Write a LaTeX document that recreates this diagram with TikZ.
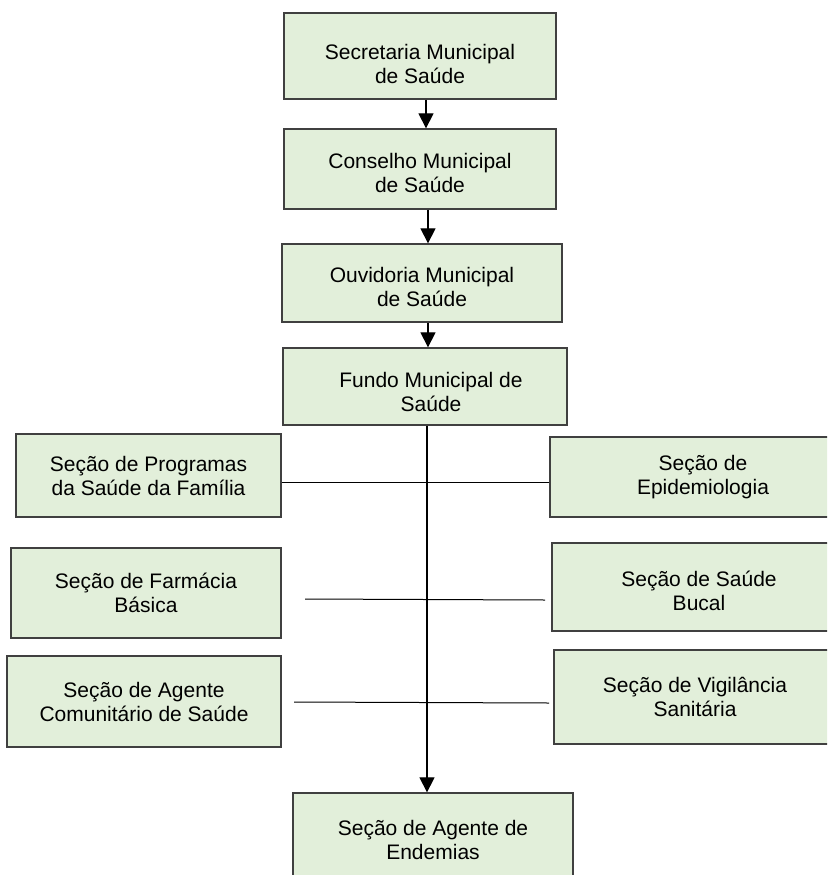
\documentclass[tikz,border=0pt]{standalone}
\usepackage{fontspec}
\setmainfont{Liberation Sans}
\usepackage{tikz}
\usetikzlibrary{calc}
\usetikzlibrary{arrows.meta}
\definecolor{boxgreen}{HTML}{E2EFDA}
\definecolor{boxedge}{HTML}{404040}
\newcommand{\txtdown}[1]{\rule{0pt}{#1}}
\tikzset{%
  orgedge/.style={->, line width=1.2pt, >={Triangle[length=15pt,width=15pt]}},
  orgline/.style={line width=1pt},
  orgbox/.style={rectangle, draw=boxedge, fill=boxgreen, line width=1.3pt, align=center,
    inner sep=0pt, font=\fontsize{21}{24}\selectfont}
}
\begin{document}
\begin{tikzpicture}[x=1pt,y=-1pt]

  \clip (0,0) rectangle (827,875);
  \node[orgbox, minimum width=272pt, minimum height=86pt] (secretaria) at (420,56) {\txtdown{32pt}Secretaria Municipal\\de Saúde};
  \node[orgbox, minimum width=272pt, minimum height=80pt] (conselho) at (420,169) {\txtdown{22.5pt}Conselho Municipal\\de Saúde};
  \node[orgbox, minimum width=280pt, minimum height=78pt] (ouvidoria) at (422,283) {\txtdown{23.5pt}Ouvidoria Municipal\\de Saúde};
  \node[orgbox, minimum width=284pt, minimum height=77pt] (fundo) at (425,386.5) {\txtdown{27pt}\hspace*{12pt}Fundo Municipal de\\\hspace*{12pt}Saúde};

  \node[orgbox, minimum width=265pt, minimum height=83pt] (programas) at (148.5,475.5) {Seção de Programas\\da Saúde da Família};
  \node[orgbox, minimum width=306pt, minimum height=80pt] (epidemio) at (703,477) {Seção de\\Epidemiologia};
  \node[orgbox, minimum width=270pt, minimum height=90pt] (farmacia) at (146,593) {Seção de Farmácia\\Básica};
  \node[orgbox, minimum width=294pt, minimum height=88pt] (bucal) at (699,587) {\txtdown{23.5pt}Seção de Saúde\\Bucal};
  \node[orgbox, minimum width=274pt, minimum height=91pt] (comunitario) at (144,701.5) {Seção de Agente\\Comunitário de Saúde};
  \node[orgbox, minimum width=282pt, minimum height=94pt] (vigilancia) at (695,697) {Seção de Vigilância\\Sanitária};
  \node[orgbox, minimum width=280pt, minimum height=88pt] (endemias) at (433,837) {\txtdown{21pt}Seção de Agente de\\Endemias};

  \coordinate (fa) at (305,599);
  \coordinate (fb) at (545,600);
  \coordinate (ca) at (294,702);
  \coordinate (cb) at (549,703);

  \draw [orgedge] ([xshift=6pt]secretaria.south) -- ([xshift=6pt]conselho.north);
  \draw [orgedge] ([xshift=8pt]conselho.south) -- ([xshift=6pt]ouvidoria.north);
  \draw [orgedge] ([xshift=6pt]ouvidoria.south) -- ([xshift=3pt]fundo.north);
  \draw [orgedge] ([xshift=2pt]fundo.south) -- ([xshift=2pt]fundo.south |- endemias.north);
  \draw [orgline] ([yshift=-6.5pt]programas.east) -- ([yshift=-5pt]epidemio.west);
  \draw [orgline] (fa) -- (fb);
  \draw [orgline] (ca) -- (cb);
\end{tikzpicture}
\end{document}
